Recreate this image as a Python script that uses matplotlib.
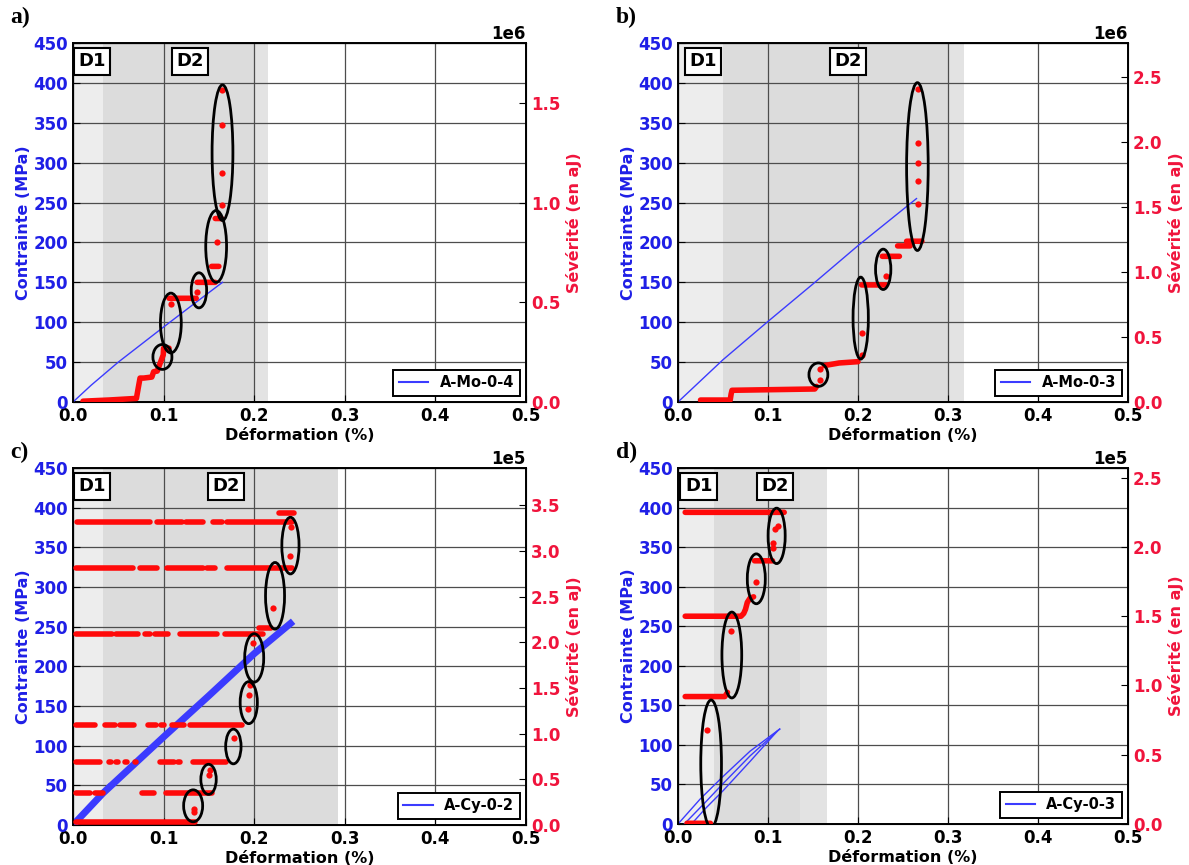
import numpy as np
import matplotlib
matplotlib.use('Agg')
import matplotlib.pyplot as plt
from matplotlib.patches import Ellipse

nan = np.nan

plt.rcParams['font.family'] = ['DejaVu Sans']
plt.rcParams['font.weight'] = 'bold'
plt.rcParams['axes.labelweight'] = 'bold'
plt.rcParams['xtick.direction'] = 'in'
plt.rcParams['ytick.direction'] = 'in'
plt.rcParams['xtick.major.size'] = 5
plt.rcParams['ytick.major.size'] = 5

BLUE = '#3b3bff'
BLUE_TXT = '#1f1fe6'
RED = '#ff0a0a'
RED_TXT = '#f0143c'
C_D1 = '#ededed'
C_D2 = '#dcdcdc'
C_D3 = '#e3e3e3'

# ---------- a) A-Mo-0-4  (severite en 1e6 aJ) ----------
strain_a = [0.0, 0.02, 0.05, 0.10, 0.13, 0.165]
stress_a = [0, 21, 50, 94, 120, 150]
red_a_x = [0.011, 0.040, 0.070, 0.072, 0.074, 0.078, 0.087, 0.089, 0.093, 0.095, 0.0996, 0.100, 0.106,
           nan, 0.106, 0.136, nan, 0.137, 0.157, nan, 0.153, 0.161, nan, 0.157, 0.164]
red_a_y = [0.004, 0.010, 0.018, 0.07, 0.12, 0.12, 0.125, 0.152, 0.155, 0.18, 0.236, 0.27, 0.27,
           nan, 0.52, 0.52, nan, 0.60, 0.60, nan, 0.68, 0.68, nan, 0.92, 0.92]
dots_a_x = [0.108, 0.137, 0.159, 0.165, 0.165, 0.165, 0.165]
dots_a_y = [0.49, 0.55, 0.80, 0.99, 1.15, 1.39, 1.565]
ell_a = [(0.0987, 0.226, 0.021, 0.125), (0.108, 0.396, 0.023, 0.30), (0.139, 0.56, 0.017, 0.176),
         (0.158, 0.78, 0.023, 0.36), (0.165, 1.25, 0.023, 0.68)]

# ---------- b) A-Mo-0-3  (1e6 aJ) ----------
strain_b = [0.0, 0.05, 0.10, 0.15, 0.20, 0.265]
stress_b = [0, 53, 101, 148, 196, 255]
red_b_x = [0.025, 0.058, 0.059, 0.060, 0.152, 0.154, nan, 0.1625, 0.179, 0.200, nan, 0.204, 0.231,
           nan, 0.227, 0.246, nan, 0.244, 0.258, nan, 0.254, 0.271]
red_b_y = [0.015, 0.015, 0.06, 0.09, 0.10, 0.12, nan, 0.28, 0.30, 0.31, nan, 0.90, 0.90,
           nan, 1.12, 1.12, nan, 1.20, 1.20, nan, 1.236, 1.236]
dots_b_x = [0.158, 0.158, 0.204, 0.204, 0.231, 0.267, 0.267, 0.267, 0.267, 0.267]
dots_b_y = [0.17, 0.25, 0.36, 0.53, 0.965, 1.52, 1.70, 1.835, 1.99, 2.41]
ell_b = [(0.156, 0.21, 0.021, 0.18), (0.203, 0.645, 0.017, 0.63), (0.228, 1.02, 0.017, 0.31),
         (0.266, 1.81, 0.024, 1.29)]

# ---------- c) A-Cy-0-2  (1e5 aJ) ----------
strain_c = [0.0, 0.033, 0.10, 0.15, 0.20, 0.24]
stress_c = [0, 40, 111, 163, 216, 254]
strain_c_loop = [0.0, 0.02, 0.04]
stress_c_loop = [0, 27, 52]
levels_c = [0.03, 0.35, 0.69, 1.09, 2.09, 2.16, 2.81, 3.32, 3.42]
segments_c = [
    [(0.003, 0.135)],
    [(0.003, 0.019), (0.024, 0.033), (0.076, 0.089), (0.103, 0.153)],
    [(0.003, 0.030), (0.040, 0.042), (0.047, 0.050), (0.057, 0.060), (0.068, 0.070),
     (0.096, 0.111), (0.116, 0.118), (0.133, 0.169)],
    [(0.003, 0.024), (0.035, 0.046), (0.052, 0.067), (0.083, 0.092), (0.097, 0.100),
     (0.109, 0.122), (0.129, 0.186)],
    [(0.003, 0.043), (0.048, 0.072), (0.079, 0.085), (0.091, 0.105), (0.118, 0.159), (0.168, 0.210)],
    [(0.205, 0.218)],
    [(0.003, 0.066), (0.074, 0.093), (0.104, 0.144), (0.148, 0.157), (0.170, 0.242)],
    [(0.004, 0.085), (0.093, 0.120), (0.125, 0.144), (0.155, 0.165), (0.170, 0.242)],
    [(0.227, 0.244)],
]
dots_c_x = [0.1335, 0.134, 0.150, 0.151, 0.178, 0.193, 0.194, 0.195, 0.199, 0.221, 0.240, 0.241]
dots_c_y = [0.14, 0.18, 0.55, 0.60, 0.95, 1.27, 1.42, 1.53, 1.99, 2.38, 2.95, 3.26]
ell_c = [(0.1326, 0.21, 0.021, 0.35), (0.1496, 0.50, 0.017, 0.33), (0.177, 0.86, 0.017, 0.38),
         (0.194, 1.34, 0.019, 0.46), (0.200, 1.83, 0.021, 0.53), (0.223, 2.51, 0.021, 0.73),
         (0.240, 3.06, 0.019, 0.62)]

# ---------- d) A-Cy-0-3  (1e5 aJ) ----------
strain_d = [[0.0, 0.025, 0.05, 0.08, 0.113], [0.007, 0.03, 0.05, 0.08, 0.113],
            [0.015, 0.03, 0.05, 0.08, 0.110]]
stress_d = [[0, 32, 60, 92, 120], [0, 27, 51, 86, 120], [0, 19, 42, 79, 117]]
red_d_x = [0.010, 0.036, nan, 0.008, 0.052, 0.055, nan, 0.008, 0.070, 0.073, 0.075, 0.077, 0.080, 0.084,
           nan, 0.085, 0.105, nan, 0.008, 0.118]
red_d_y = [0.005, 0.005, nan, 0.92, 0.92, 0.95, nan, 1.50, 1.50, 1.52, 1.55, 1.60, 1.63, 1.64,
           nan, 1.90, 1.90, nan, 2.25, 2.25]
dots_d_x = [0.032, 0.0586, 0.087, 0.106, 0.106, 0.108, 0.111]
dots_d_y = [0.68, 1.39, 1.75, 1.99, 2.03, 2.13, 2.15]
ell_d = [(0.0368, 0.435, 0.023, 0.92), (0.0598, 1.22, 0.022, 0.62), (0.087, 1.77, 0.020, 0.36),
         (0.1096, 2.08, 0.019, 0.40)]


def segs_to_xy(levels, segments):
    xs, ys = [], []
    for lev, segs in zip(levels, segments):
        for s0, s1 in segs:
            xs += [s0, s1, nan]
            ys += [lev, lev, nan]
    return xs, ys


red_c_x, red_c_y = segs_to_xy(levels_c, segments_c)

fig = plt.figure(figsize=(11.89, 8.65), dpi=100)


def panel(rect, letter, letter_xy, name, blues, blue_lw, red_x, red_y, dots_x, dots_y, ells,
          scale, sev_top, zones, d1x, d2x):
    ax = fig.add_axes(rect)
    ax.axvspan(0, zones[0], color=C_D1, lw=0, zorder=0)
    ax.axvspan(zones[0], zones[1], color=C_D2, lw=0, zorder=0)
    ax.axvspan(zones[1], zones[2], color=C_D3, lw=0, zorder=0)
    for i, (bx, by) in enumerate(blues):
        ax.plot(bx, by, color=BLUE, lw=blue_lw[i], label=name if i == 0 else None, zorder=3)
    ax.set_xlim(0, 0.5)
    ax.set_ylim(0, 450)
    ax.set_xticks(np.arange(0, 0.51, 0.1))
    ax.set_yticks(np.arange(0, 451, 50))
    ax.grid(True, color='0.3', lw=0.9)
    ax.tick_params(axis='y', labelcolor=BLUE_TXT, labelsize=12)
    ax.tick_params(axis='x', labelsize=12)
    ax.set_xlabel('Déformation (%)', fontsize=11.5, labelpad=2)
    ax.set_ylabel('Contrainte (MPa)', fontsize=11.5, color=BLUE_TXT, labelpad=2)
    for sp in ax.spines.values():
        sp.set_linewidth(1.4)
    for txt, xx in (('D1', d1x), ('D2', d2x)):
        ax.text(xx, 427, txt, ha='center', va='center', fontsize=13, zorder=6,
                bbox=dict(boxstyle='square,pad=0.25', fc='white', ec='k', lw=1.5))
    leg = ax.legend(loc='lower right', fancybox=False, edgecolor='k', framealpha=1,
                    fontsize=10.5, borderaxespad=0.4, handlelength=2.0)
    leg.get_frame().set_linewidth(1.4)
    leg.get_lines()[0].set_linewidth(1.5)
    leg.set_zorder(10)

    ax2 = ax.twinx()
    ax2.plot(red_x, np.array(red_y) * scale, color=RED, lw=4, solid_capstyle='round', zorder=3)
    ax2.plot(dots_x, np.array(dots_y) * scale, 'o', color=RED, ms=4.5, mec='none', zorder=3)
    for ex, ey, ew, eh in ells:
        ax2.add_patch(Ellipse((ex, ey * scale), ew, eh * scale, fill=False, ec='k', lw=2, zorder=4))
    ax2.set_xlim(0, 0.5)
    ax2.set_ylim(0, sev_top * scale)
    ax2.set_yticks(np.arange(0, sev_top, 0.5) * scale)
    ax2.ticklabel_format(axis='y', style='sci', scilimits=(0, 0))
    ax2.tick_params(axis='y', labelcolor=RED_TXT, labelsize=12)
    off = ax2.yaxis.get_offset_text()
    off.set_fontsize(12)
    off.set_fontweight('bold')
    off.set_color('black')
    ax2.set_ylabel('Sévérité (en aJ)', fontsize=11.5, color=RED_TXT, labelpad=4)
    fig.text(letter_xy[0], letter_xy[1], letter, fontsize=17, fontweight='bold',
             family='Liberation Serif', va='center', ha='left')
    return ax, ax2


W, H = 1189, 865
ra = [73 / W, 1 - 402 / H, 453 / W, 359 / H]
rb = [678 / W, 1 - 402 / H, 450 / W, 359 / H]
rc = [73 / W, 1 - 825 / H, 453 / W, 357 / H]
rd = [678 / W, 1 - 824 / H, 450 / W, 356 / H]

panel(ra, 'a)', (10 / W, 1 - 17 / H), 'A-Mo-0-4', [(strain_a, stress_a)], [1.0],
      red_a_x, red_a_y, dots_a_x, dots_a_y, ell_a, 1e6, 1.80, (0.033, 0.200, 0.215), 0.021, 0.129)
panel(rb, 'b)', (616 / W, 1 - 17 / H), 'A-Mo-0-3', [(strain_b, stress_b)], [1.0],
      red_b_x, red_b_y, dots_b_x, dots_b_y, ell_b, 1e6, 2.76, (0.05, 0.300, 0.318), 0.028, 0.189)
panel(rc, 'c)', (10 / W, 1 - 452 / H), 'A-Cy-0-2',
      [(strain_c, stress_c), (strain_c_loop, stress_c_loop)], [5.0, 1.0],
      red_c_x, red_c_y, dots_c_x, dots_c_y, ell_c, 1e5, 3.91, (0.033, 0.292, 0.292), 0.021, 0.169)
panel(rd, 'd)', (616 / W, 1 - 452 / H), 'A-Cy-0-3',
      [(strain_d[i], stress_d[i]) for i in range(3)], [1.0, 1.0, 1.0],
      red_d_x, red_d_y, dots_d_x, dots_d_y, ell_d, 1e5, 2.57, (0.04, 0.135, 0.165), 0.023, 0.108)

fig.savefig('out.png', dpi=100)
